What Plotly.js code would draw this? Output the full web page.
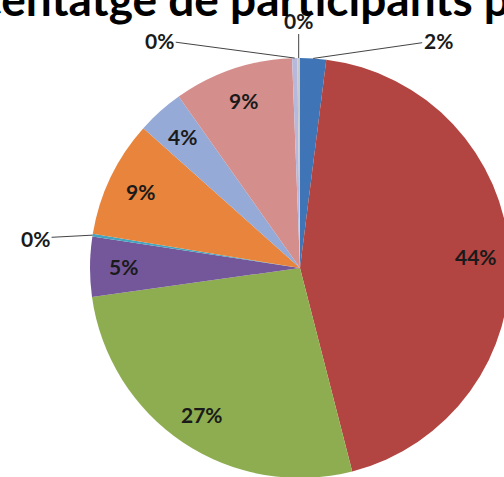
<!DOCTYPE html>
<html>
<head>
<meta charset="utf-8">
<script src="https://cdn.plot.ly/plotly-3.0.1.min.js"></script>
<style>
html,body{margin:0;padding:0;overflow:hidden;background:#fff;width:504px;height:477px;}
#chart{position:absolute;left:0;top:0;width:620px;height:520px;}
</style>
</head>
<body>
<div id="chart"></div>
<script>
// ---- data ----
var titleText = "Percentatge de participants per";
var categories = ["A","B","C","D","E","F","G","H","I","J"];
var values = [2.0, 44.0, 26.8, 4.6, 0.2, 9.0, 3.6, 9.2, 0.4, 0.2];
var colors = ["#3F74B6","#B24441","#8EAD50","#74579A","#45A5BF","#E8843B","#96AAD7","#D48F8D","#B6B9DB","#C9C9C9"];

// ---- layout constants (pixels in the chart div) ----
var W = 620, H = 520;
var CX = 300, CY = 268, R = 210;
var LABEL_R = 0.84;
var TITLE_FS = 46;
// offsets of outside labels (leader lines), by slice index
var outsideOffsets = {0:[125,-18], 4:[-57,3], 8:[-135,-18], 9:[0,-38]};

var total = values.reduce(function(a,b){return a+b;},0);
var annotations = [];
var cum = 0;
var labelFont = {family:"Lato",size:21,color:"#1a1a1a",weight:"bold"};
for (var i=0;i<values.length;i++){
  var mid = (cum + values[i]/2)/total;
  cum += values[i];
  var th = 2*Math.PI*mid;
  var txt = Math.round(values[i]/total*100) + "%";
  var off = outsideOffsets[i];
  if (off){
    var px = CX + R*Math.sin(th), py = CY - R*Math.cos(th);
    annotations.push({xref:"paper",yref:"paper",x:px/W,y:1-py/H,text:txt,
      xanchor:"center",yanchor:"middle",
      showarrow:true,arrowhead:0,arrowwidth:1,arrowcolor:"#444",ax:off[0],ay:off[1],
      font:labelFont});
  } else {
    var px2 = CX + LABEL_R*R*Math.sin(th), py2 = CY - LABEL_R*R*Math.cos(th);
    annotations.push({xref:"paper",yref:"paper",x:px2/W,y:1-py2/H,text:txt,showarrow:false,
      xanchor:"center",yanchor:"middle",font:labelFont});
  }
}

// title, placed so that the chart's crop matches (only its lower part is visible)
var titleIdx = annotations.length;
annotations.push({xref:"paper",yref:"paper",x:0,xanchor:"left",y:1+2/H,yanchor:"middle",
  text:titleText,showarrow:false,font:{family:"Lato",size:TITLE_FS,color:"#000",weight:"bold"}});

var trace = {
  type:"pie",
  labels:categories,
  values:values,
  sort:false,
  direction:"clockwise",
  rotation:0,
  textinfo:"none",
  hoverinfo:"none",
  marker:{colors:colors,line:{width:0}},
  domain:{x:[(CX-R)/W,(CX+R)/W],y:[1-(CY+R)/H,1-(CY-R)/H]},
  showlegend:false
};

Plotly.newPlot("chart",[trace],{
  width:W,height:H,
  margin:{l:0,r:0,t:0,b:0},
  paper_bgcolor:"#fff",
  showlegend:false,
  annotations:annotations
},{staticPlot:true,displayModeBar:false}).then(function(gd){
  var t = gd.querySelectorAll(".annotation-text")[titleIdx];
  var w = 0;
  try { w = t.getSubStringLength(0,4); } catch(e) {
    var ctx = document.createElement("canvas").getContext("2d");
    ctx.font = "bold "+TITLE_FS+"px Lato";
    w = ctx.measureText("Perc").width;
  }
  var upd = {};
  upd["annotations["+titleIdx+"].x"] = -(w+1)/W;
  return Plotly.relayout(gd, upd);
});
</script>
</body>
</html>
